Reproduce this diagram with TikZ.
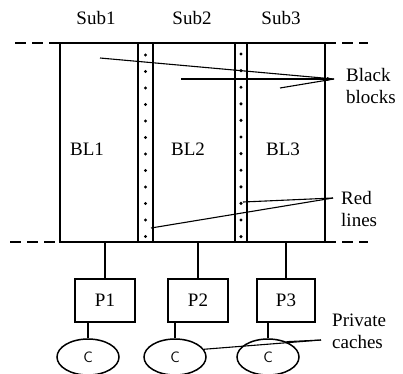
\documentclass[tikz,border=0pt]{standalone}
\usepackage{fontspec}
\setmainfont{Liberation Serif}
\usetikzlibrary{arrows.meta,positioning,shapes.geometric,calc}
\tikzset{
  blk/.style={draw,line width=1.5pt,minimum width=#1,minimum height=199pt,
    inner sep=0pt,outer sep=0pt},
  pbox/.style={draw,line width=1.5pt,minimum width=#1,minimum height=43pt,
    inner sep=0pt,font=\fontsize{19}{22}\selectfont},
  cache/.style={ellipse,draw,line width=1.5pt,minimum width=62pt,minimum height=36pt,
    inner sep=0pt,font=\sffamily\fontsize{15}{17}\selectfont},
  lbl/.style={inner sep=0pt,font=\fontsize{19}{22}\selectfont},
  note/.style={lbl,align=left,anchor=west},
  link/.style={line width=1.5pt},
  lead/.style={line width=1.1pt},
  dashline/.style={line width=1.5pt,dash pattern=on 11pt off 6pt}
}
\begin{document}
\begin{tikzpicture}[x=1pt,y=-1pt]
  \useasboundingbox (0,0) rectangle (403,373);
  % sub-blocks and red-line strips
  \node[blk=78pt] (bl1) at (99,142.5) {};
  \node[blk=15pt,right=0pt of bl1] (strip1) {};
  \node[blk=82pt,right=0pt of strip1] (bl2) {};
  \node[blk=12pt,right=0pt of bl2] (strip2) {};
  \node[blk=78pt,right=0pt of strip2] (bl3) {};
  \foreach \k in {0,...,11} {
    \fill ($(strip1.north)+(0,12+\k*16.5)$) circle (1.7pt);
    \fill ($(strip2.north)+(0,11+\k*16.6)$) circle (1.7pt);
  }
  \node[lbl] (sub1) at (96,18) {Sub1};
  \node[lbl] (sub2) at (192,18) {Sub2};
  \node[lbl] (sub3) at (281,18) {Sub3};
  \node[lbl] (t1) at (87,149) {BL1};
  \node[lbl] (t2) at (188,149) {BL2};
  \node[lbl] (t3) at (283,149) {BL3};
  % dashed bounds
  \coordinate (dtl) at (15,43); \coordinate (dtr) at (368,43);
  \coordinate (dbl) at (10,242); \coordinate (dbr) at (368,242);
  \draw[dashline] (dtl) -- (bl1.north west);
  \draw[dashline] (bl3.north east) -- (dtr);
  \draw[dashline] (dbl) -- (bl1.south west);
  \draw[dashline] (bl3.south east) -- (dbr);
  % processors and caches
  \node[pbox=60pt] (p1) at (105,300.5) {P1};
  \node[pbox=60pt] (p2) at (198,300.5) {P2};
  \node[pbox=58pt] (p3) at (286,300.5) {P3};
  \node[cache] (c1) at (88,357) {C};
  \node[cache] (c2) at (175,357) {C};
  \node[cache] (c3) at (268,357) {C};
  \draw[link] (p1.north) -- (p1.north |- bl1.south);
  \draw[link] (p2.north) -- (p2.north |- bl2.south);
  \draw[link] (p3.north) -- (p3.north |- bl3.south);
  \draw[link] (c1.north) -- (c1.north |- p1.south);
  \draw[link] (c2.north) -- (c2.north |- p2.south);
  \draw[link] (c3.north) -- (c3.north |- p3.south);
  % callouts
  \node[note] (black) at (346,86) {Black\\blocks};
  \node[note] (red) at (341,209) {Red\\lines};
  \node[note] (priv) at (332,331) {Private\\caches};
  \coordinate (bbtip) at (334,79);
  \coordinate (bb1) at (100,58); \coordinate (bb2) at (181,79); \coordinate (bb3) at (280,88);
  \draw[lead] (bb1) -- (bbtip);
  \draw[lead,-{Latex[length=7pt,width=4pt]}] (bb2) -- (bbtip);
  \draw[lead] (bb3) -- (bbtip);
  \coordinate (rltip) at (333,198);
  \coordinate (rl1) at (243,202); \coordinate (rl2) at (151,228);
  \draw[lead] (rl1) -- (rltip);
  \draw[lead] (rl2) -- (rltip);
  \coordinate (pctip) at (321,340);
  \draw[lead] (c2.15) -- (pctip);
  \draw[lead] (c3.40) -- (pctip);
\end{tikzpicture}
\end{document}
